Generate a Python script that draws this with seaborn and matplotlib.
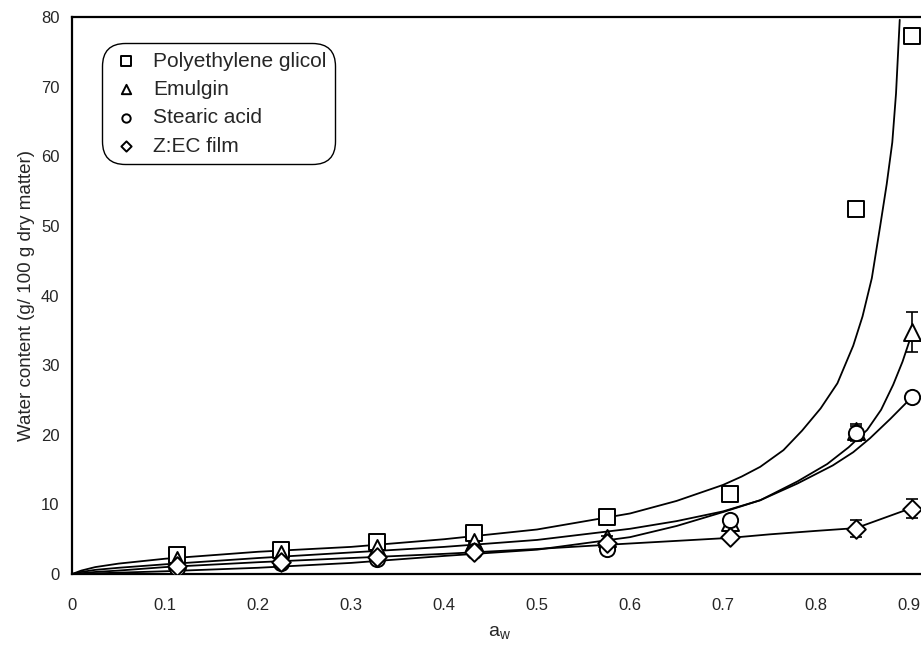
import numpy as np
import pandas as pd
import matplotlib
matplotlib.use("Agg")
import matplotlib.pyplot as plt
import seaborn as sns

aw = [0.113, 0.225, 0.328, 0.432, 0.575, 0.708, 0.843, 0.903]
peg = [2.7, 3.4, 4.6, 5.9, 8.2, 11.5, 52.5, 77.3]
emulgin = [2.0, 2.9, 3.8, 4.6, 5.2, 7.5, 20.5, 34.8]
stearic = [0.8, 1.6, 2.2, 3.3, 3.6, 7.8, 20.3, 25.4]
zec = [1.2, 1.8, 2.5, 3.2, 4.4, 5.3, 6.5, 9.4]

emulgin_err = [0.2, 0.2, 0.2, 0.2, 0.3, 0.9, 0.8, 2.9]
stearic_err = [0.2, 0.2, 0.2, 0.2, 0.3, 0.6, 1.2, 0.6]
zec_err = [0.2, 0.2, 0.2, 0.2, 0.3, 0.4, 1.2, 1.4]

# fitted curves
peg_fit_x = [0, 0.01, 0.025, 0.05, 0.1, 0.2, 0.3, 0.4, 0.5, 0.6, 0.65, 0.7,
             0.72, 0.74, 0.765, 0.785, 0.805, 0.823, 0.84, 0.85, 0.86, 0.869,
             0.876, 0.882, 0.886, 0.89]
peg_fit_y = [0, 0.5, 1.0, 1.5, 2.2, 3.2, 3.9, 5.0, 6.4, 8.7, 10.5, 12.8,
             14.0, 15.4, 17.8, 20.6, 23.8, 27.4, 32.8, 37.0, 42.5, 50.0,
             56.0, 62.0, 69.0, 79.6]

emu_fit_x = [0, 0.01, 0.025, 0.05, 0.1, 0.2, 0.3, 0.4, 0.5, 0.6, 0.65, 0.7,
             0.74, 0.78, 0.812, 0.835, 0.855, 0.87, 0.883, 0.893, 0.903]
emu_fit_y = [0, 0.3, 0.6, 0.9, 1.4, 2.3, 3.1, 3.9, 4.9, 6.5, 7.6, 9.0,
             10.6, 13.3, 15.8, 18.2, 20.7, 23.6, 27.2, 30.5, 34.5]

ste_fit_x = [0, 0.05, 0.1, 0.2, 0.3, 0.4, 0.5, 0.6, 0.65, 0.7, 0.74, 0.78,
             0.818, 0.84, 0.858, 0.88, 0.903]
ste_fit_y = [0, 0.2, 0.4, 0.9, 1.6, 2.6, 3.5, 5.3, 6.9, 8.9, 10.6, 13.0,
             15.6, 17.5, 19.5, 22.3, 25.4]

zec_fit_x = [0, 0.025, 0.05, 0.1, 0.2, 0.3, 0.4, 0.5, 0.575, 0.708, 0.75, 0.8,
             0.843, 0.903]
zec_fit_y = [0, 0.3, 0.5, 1.0, 1.7, 2.3, 2.9, 3.6, 4.2, 5.2, 5.7, 6.2, 6.6, 9.5]

x_ticks = [0, 0.1, 0.2, 0.3, 0.4, 0.5, 0.6, 0.7, 0.8, 0.9]
x_tick_labels = ["0", "0.1", "0.2", "0.3", "0.4", "0.5", "0.6", "0.7", "0.8", "0.9"]
y_ticks = [0, 10, 20, 30, 40, 50, 60, 70, 80]

sns.set_style("white")
plt.rcParams['font.family'] = ['Liberation Sans', 'DejaVu Sans']

fig = plt.figure(figsize=(9.21, 6.45), dpi=100)
ax = fig.add_axes([0.0782, 0.110, 0.929, 0.8636])

# curves
for fx, fy in [(peg_fit_x, peg_fit_y), (emu_fit_x, emu_fit_y),
               (ste_fit_x, ste_fit_y), (zec_fit_x, zec_fit_y)]:
    sns.lineplot(x=fx, y=fy, ax=ax, color="black", linewidth=1.3,
                 sort=False, estimator=None, zorder=2)

# error bars
for ys, es in [(emulgin, emulgin_err), (stearic, stearic_err), (zec, zec_err)]:
    ax.errorbar(aw, ys, yerr=es, fmt="none", ecolor="black",
                elinewidth=1.2, capsize=4, capthick=1.2, zorder=3)

series = [
    ("Polyethylene glicol", peg, "s", 145),
    ("Emulgin", emulgin, "^", 150),
    ("Stearic acid", stearic, "o", 120),
    ("Z:EC film", zec, "D", 90),
]
for name, ys, mk, sz in series:
    sns.scatterplot(x=aw, y=ys, ax=ax, marker=mk, s=sz, facecolor="white",
                    edgecolor="black", linewidth=1.4, label=name, zorder=4)

ax.set_xlim(0, 0.92)
ax.set_ylim(0, 80)
ax.set_xticks(x_ticks)
ax.set_xticklabels(x_tick_labels)
ax.set_yticks(y_ticks)
ax.tick_params(direction="in", length=5, width=1.2, labelsize=12, pad=17)
ax.tick_params(axis="y", pad=9)
for sp in ax.spines.values():
    sp.set_linewidth(1.6)
    sp.set_color("black")

ax.set_xlabel("a$_\\mathregular{w}$", fontsize=14, labelpad=9)
ax.set_ylabel("Water content (g/ 100 g dry matter)", fontsize=13.5, labelpad=4)

leg = ax.legend(loc="upper left", bbox_to_anchor=(0.035, 0.953), borderaxespad=0,
                fontsize=15, markerscale=0.55, handletextpad=0.55,
                labelspacing=0.45, frameon=True, fancybox=True,
                handlelength=1.5, borderpad=0.4)
frame = leg.get_frame()
frame.set_edgecolor("black")
frame.set_linewidth(1.0)
frame.set_alpha(1)
frame.set_boxstyle("round", pad=0.0, rounding_size=1.1)

fig.savefig("out.png", dpi=100)
